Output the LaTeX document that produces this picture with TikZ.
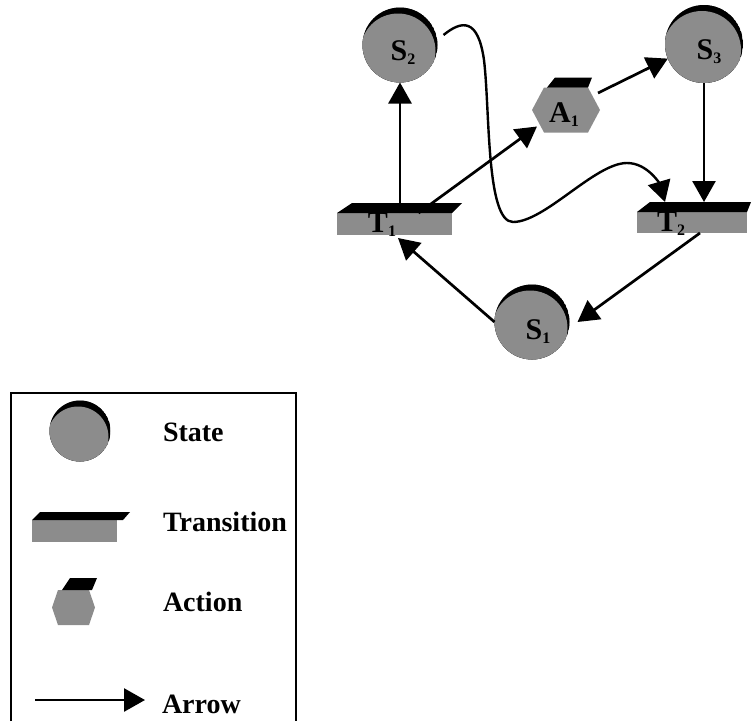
\documentclass[tikz,border=0pt]{standalone}
\usepackage{fontspec}
\setmainfont{Liberation Serif}
\usetikzlibrary{arrows.meta}
% lowered index digit for the node names
\newcommand{\lowidx}[1]{{\fontsize{16}{16}\selectfont\raisebox{-4pt}{#1}}}
\definecolor{speckle}{gray}{0.55}
\begin{document}
\begin{tikzpicture}[x=1pt,y=-1pt,
  every node/.style={inner sep=0pt,outer sep=0pt},
  statenode/.style={circle,minimum size=#1,fill=speckle,
    path picture={
      \fill[black] (path picture bounding box.center) circle (#1/2);
      \fill[speckle] ([xshift=-2pt,yshift=-6pt]path picture bounding box.center) circle (#1/2);
    }},
  statenode/.default=75pt,
  transnode/.style={rectangle,fill=speckle},
  actnode/.style={rectangle,
    path picture={
      \fill[speckle] (path picture bounding box.west)
        -- ([xshift=#1]path picture bounding box.north west)
        -- ([xshift=-#1]path picture bounding box.north east)
        -- (path picture bounding box.east)
        -- ([xshift=-#1]path picture bounding box.south east)
        -- ([xshift=#1]path picture bounding box.south west) -- cycle;
    }},
  lbl/.style={font=\fontsize{30}{30}\selectfont\bfseries},
  legtext/.style={anchor=west,font=\fontsize{28}{28}\selectfont\bfseries},
  arr/.style={line width=2.7pt,-{Triangle[length=21pt,width=23pt]}},
  topcap/.style={fill=black}
]
\useasboundingbox (0,0) rectangle (753,721);

% ---- states ----
\node[statenode] (S2) at (400,45) {};
\node[statenode=78pt] (S3) at (704,44) {};
\node[statenode] (S1) at (532,322) {};
\node[lbl] (S2t) at (403,53) {S\lowidx{2}};
\node[lbl] (S3t) at (709,52) {S\lowidx{3}};
\node[lbl] (S1t) at (538,332) {S\lowidx{1}};

% ---- transitions: textured body with a dark slanted top ----
\node[transnode,minimum width=115pt,minimum height=22pt] (T1) at (394.5,224) {};
\node[transnode,minimum width=110pt,minimum height=21pt] (T2) at (692,222.5) {};
\fill[topcap] (T1.north west) -- ([xshift=15pt,yshift=10pt]T1.north west)
  -- ([xshift=10pt,yshift=10pt]T1.north east) -- (T1.north east) -- cycle;
\fill[topcap] (T2.north west) -- ([xshift=13pt,yshift=10pt]T2.north west)
  -- ([xshift=4pt,yshift=10pt]T2.north east) -- (T2.north east) -- cycle;
\node[lbl] (T1t) at (382,225) {T\lowidx{1}};
\node[lbl] (T2t) at (671,224) {T\lowidx{2}};

% ---- action ----
\node[actnode=12pt,minimum width=68pt,minimum height=45pt] (A1) at (566,110) {};
\fill[topcap] ([xshift=15pt]A1.north west) -- ([xshift=23pt,yshift=10pt]A1.north west)
  -- ([xshift=-8pt,yshift=10pt]A1.north east) -- ([xshift=-12pt]A1.north east) -- cycle;
\node[lbl] (A1t) at (564,115) {A\lowidx{1}};

% ---- connectors ----
\draw[arr] (T1.north -| S2.south) -- (S2.south);
\draw[arr] ([xshift=24pt]T1.north) -- ([xshift=5pt,yshift=6pt]A1.south west);
\draw[arr] ([xshift=-2pt,yshift=17pt]A1.east) -- (S3.202);
\draw[arr] (S3.south) -- ([yshift=10pt]S3.south |- T2.north);
\draw[arr] ([xshift=8pt]T2.south) -- ([xshift=8pt]S1.east);
\draw[arr] (S1.west) -- ([xshift=3.5pt,yshift=-3pt]T1.south);
\draw[line width=2.4pt,-{Triangle[length=21pt,width=23pt]}]
  ([xshift=6pt,yshift=10pt]S2.east)
  .. controls (462,20) and (478,18) .. (484,60)
  .. controls (490,110) and (486,222) .. (513,222)
  .. controls (545,222) and (595,163) .. (627,163)
  .. controls (648,163) and (660,185) .. ([xshift=28pt,yshift=10pt]T2.north west);

% ---- legend ----
\draw[line width=1.5pt] (11,721) -- (11,393) -- (296,393) -- (296,721);
\node[statenode=61pt] (LS) at (80,431) {};
\node[legtext] (LSt) at (163,432) {State};
\node[transnode,minimum width=85pt,minimum height=22pt] (LT) at (74.5,531) {};
\fill[topcap] (LT.north west) -- ([xshift=8pt,yshift=8pt]LT.north west)
  -- ([xshift=13pt,yshift=8pt]LT.north east) -- ([xshift=6pt]LT.north east) -- cycle;
\node[legtext] (LTt) at (163,522) {Transition};
\node[actnode=6pt,minimum width=43pt,minimum height=35pt] (LA) at (73.5,607.5) {};
\fill[topcap] ([xshift=10pt]LA.north west) -- ([xshift=18pt,yshift=12pt]LA.north west)
  -- ([xshift=2pt,yshift=12pt]LA.north east) -- ([xshift=-3pt]LA.north east) -- cycle;
\node[legtext] (LAt) at (163,602) {Action};
\coordinate (LR0) at (35,700);
\coordinate (LR1) at (145,700);
\draw[arr] (LR0) -- (LR1);
\node[legtext] (LRt) at (162,704) {Arrow};
\end{tikzpicture}
\end{document}
